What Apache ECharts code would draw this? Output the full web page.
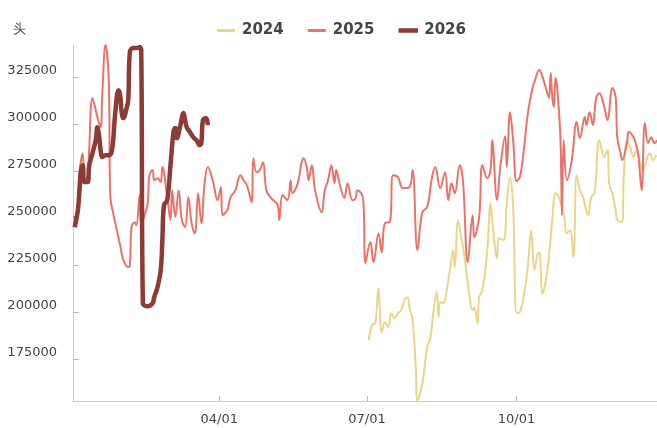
<!DOCTYPE html>
<html>
<head>
<meta charset="utf-8">
<script src="https://cdn.jsdelivr.net/npm/echarts@6/dist/echarts.min.js"></script>
<style>
  html, body { margin: 0; padding: 0; background: #fff; }
  #chart { width: 657px; height: 428px; }
</style>
</head>
<body>
<div id="chart"></div>
<script>
// day of year (0 = 01/01) and values
let days2024 = [182, 184, 186, 187, 188, 190, 192, 194, 196, 198, 200, 202, 204, 206, 207, 209, 211, 212, 215, 218,
  220, 222, 224, 225, 226, 228, 230, 232, 234, 235, 237, 239, 241, 243, 246, 247, 249, 250, 252, 255,
  257, 258, 261, 262, 265, 267, 269, 271, 273, 275, 278, 280, 282, 284, 286, 287, 289, 292, 295, 297,
  299, 302, 304, 306, 308, 310, 312, 314, 317, 319, 321, 324, 327, 329, 330, 332, 334, 335, 338, 339,
  341, 343, 345, 347, 349, 351, 353, 355, 357, 359];
let values2024 = [184900, 192900, 194000, 202500, 212600, 189200, 194500, 191800, 199300, 196600, 199300, 200900, 206200, 207800, 202500, 195600, 170600, 153000, 162000, 181200,
  186500, 200900, 210500, 197200, 205100, 204600, 211500, 222200, 232800, 223800, 248800, 239700, 229100, 215200, 200900, 202500, 194000, 207800, 211500, 232800,
  257800, 248800, 228500, 239200, 238100, 257800, 271600, 254100, 199300, 199800, 211500, 224800, 243400, 222200, 231200, 231700, 209900, 222200, 248800, 263100,
  261000, 252500, 241800, 243400, 229100, 272700, 264700, 261000, 251400, 261000, 263100, 291300, 282300, 286000, 268400, 263100, 254100, 248800, 247700, 271600,
  291300, 287600, 282300, 286000, 279100, 275400, 280700, 284400, 280700, 283300];

let days2025 = [0, 2, 4, 6, 7, 9, 12, 14, 15, 17, 18, 20, 22, 23, 25, 27, 29, 31, 34, 35,
  36, 38, 39, 41, 42, 44, 46, 47, 49, 50, 52, 54, 55, 58, 60, 61, 63, 65, 67, 69,
  71, 73, 75, 77, 79, 81, 83, 86, 89, 91, 92, 95, 97, 100, 103, 105, 107, 110, 111, 113,
  115, 117, 119, 122, 126, 127, 129, 132, 134, 135, 138, 142, 144, 145, 147, 149, 153, 155, 157, 159,
  161, 162, 164, 167, 169, 172, 174, 175, 178, 179, 180, 183, 185, 188, 190, 192, 195, 197, 200, 203,
  207, 209, 212, 215, 218, 221, 223, 226, 229, 231, 233, 235, 238, 240, 243, 246, 247, 250, 252, 255,
  257, 258, 261, 263, 266, 267, 269, 271, 273, 275, 277, 280, 283, 284, 287, 289, 292, 293, 294, 295,
  296, 297, 298, 300, 301, 302, 304, 307, 310, 312, 315, 316, 318, 320, 322, 324, 327, 329, 332, 334,
  335, 337, 338, 341, 342, 345, 347, 348, 350, 352, 354, 356, 358, 360, 364];
let values2025 = [250400, 250400, 274300, 284400, 268400, 272700, 313700, 307300, 303600, 298200, 315300, 341900, 323200, 261000, 251400, 243400, 235500, 227500, 223800, 224800,
  245000, 247700, 246100, 262100, 246100, 251400, 257800, 272700, 275400, 270000, 271100, 269000, 277000, 261000, 248800, 264700, 250400, 264700, 248800, 245000,
  261000, 247200, 241800, 263100, 247200, 268400, 277000, 270000, 259400, 266300, 251400, 254100, 261000, 264700, 272700, 270000, 267400, 258300, 281700, 274300,
  275400, 279600, 264700, 260500, 256700, 248800, 262100, 259400, 270000, 263100, 267400, 281700, 276400, 270000, 278000, 264700, 253000, 264700, 270000, 278000,
  268400, 275400, 268400, 260500, 268400, 259400, 260500, 264700, 262100, 254100, 225900, 237100, 226400, 241800, 231700, 247200, 247700, 272700, 271600, 265800,
  266300, 275400, 232800, 253000, 255700, 271600, 277000, 265800, 274300, 259400, 268400, 263100, 278000, 270000, 226400, 251400, 239700, 250400, 278000, 271100,
  275400, 291300, 259400, 277000, 293400, 277000, 306200, 290300, 269500, 271600, 282300, 305700, 319500, 322200, 328600, 324800, 316300, 313700, 327000, 314200,
  308900, 324300, 319500, 292900, 251400, 291300, 270000, 280700, 300900, 292400, 303600, 299300, 306200, 299300, 313700, 316300, 308900, 302000, 319000, 314200,
  292900, 284400, 280700, 289700, 295600, 292900, 287600, 283300, 264700, 300400, 289700, 292900, 289700, 291300, 290000];

let days2026 = [1, 3, 4, 5, 6, 7, 9, 10, 12, 14, 15, 16, 17, 18, 20, 22, 24, 26, 28, 29,
  30, 31, 33, 34, 35, 37, 40, 41, 42, 43, 46, 49, 50, 52, 54, 55, 56, 58, 60, 62,
  63, 64, 66, 68, 69, 70, 72, 74, 76, 78, 79, 80, 82, 83];
let values2026 = [245000, 254100, 264700, 275400, 278000, 269000, 269000, 278000, 284400, 291300, 298200, 294000, 286000, 282300, 283300, 283300, 286000, 305700, 317900, 315300,
  305700, 303000, 308300, 312600, 338100, 340300, 340300, 340800, 339200, 204600, 203000, 204600, 207800, 213100, 222200, 238100, 256700, 259400, 278000, 296600,
  297700, 292400, 298800, 305700, 302000, 298200, 295600, 292900, 291300, 288700, 289700, 302000, 303000, 299300];

let yTicks = [175000, 200000, 225000, 250000, 275000, 300000, 325000];
let xTicks = [90, 181, 273]; // 04/01, 07/01, 10/01

function pairs(days, vals) {
  return days.map(function (d, i) { return [d, vals[i]]; });
}
function dayLabel(d) {
  let dt = new Date(2025, 0, 1 + d);
  let m = dt.getMonth() + 1, dd = dt.getDate();
  return (m < 10 ? '0' + m : m) + '/' + (dd < 10 ? '0' + dd : dd);
}

let myChart = echarts.init(document.getElementById('chart'));

let option = {
  animation: false,
  textStyle: { fontFamily: 'DejaVu Sans' },
  legend: {
    top: 18,
    left: 212,
    icon: 'rect',
    itemWidth: 18,
    itemHeight: 3,
    itemGap: 24,
    textStyle: { fontSize: 15, fontWeight: 'bold', color: '#444', padding: [0, 0, 0, 2] },
    data: [
      { name: '2024' },
      { name: '2025' },
      { name: '2026', itemStyle: { borderWidth: 1.5, borderColor: '#8c3b37' } }
    ]
  },
  grid: { left: 73, top: 45, bottom: 27, right: -9, outerBoundsMode: 'none' },
  xAxis: {
    type: 'value',
    min: 0,
    max: 365,
    splitLine: { show: false },
    axisLine: { lineStyle: { color: '#cccccc' } },
    axisTick: { inside: true, length: 5, customValues: xTicks, lineStyle: { color: '#bbbbbb' } },
    axisLabel: {
      customValues: xTicks,
      margin: 12,
      fontSize: 13,
      color: '#444',
      formatter: function (v) { return dayLabel(v); }
    }
  },
  yAxis: {
    type: 'value',
    min: 152600,
    max: 341900,
    name: '头',
    nameGap: 9,
    nameTextStyle: { fontSize: 13, color: '#444', align: 'right', padding: [0, 47, 0, 0] },
    splitLine: { show: false },
    axisLine: { show: true, lineStyle: { color: '#cccccc' } },
    axisTick: { show: true, inside: true, length: 6, customValues: yTicks, lineStyle: { color: '#bbbbbb' } },
    axisLabel: {
      customValues: yTicks,
      margin: 16,
      fontSize: 13,
      color: '#444',
      verticalAlign: 'bottom',
      formatter: function (v) { return String(v); }
    }
  },
  series: [
    {
      name: '2024',
      type: 'line',
      smooth: 0.4,
      showSymbol: false,
      color: '#e8d68a',
      lineStyle: { width: 2, color: '#e8d68a' },
      data: pairs(days2024, values2024)
    },
    {
      name: '2025',
      type: 'line',
      smooth: 0.4,
      showSymbol: false,
      color: '#e9736b',
      lineStyle: { width: 2, color: '#e9736b' },
      data: pairs(days2025, values2025)
    },
    {
      name: '2026',
      type: 'line',
      smooth: 0.4,
      showSymbol: false,
      color: '#8c3b37',
      lineStyle: { width: 4.5, color: '#8c3b37' },
      data: pairs(days2026, values2026)
    }
  ]
};

myChart.setOption(option);
window.addEventListener('resize', function () {
  myChart.resize();
});
</script>
</body>
</html>
